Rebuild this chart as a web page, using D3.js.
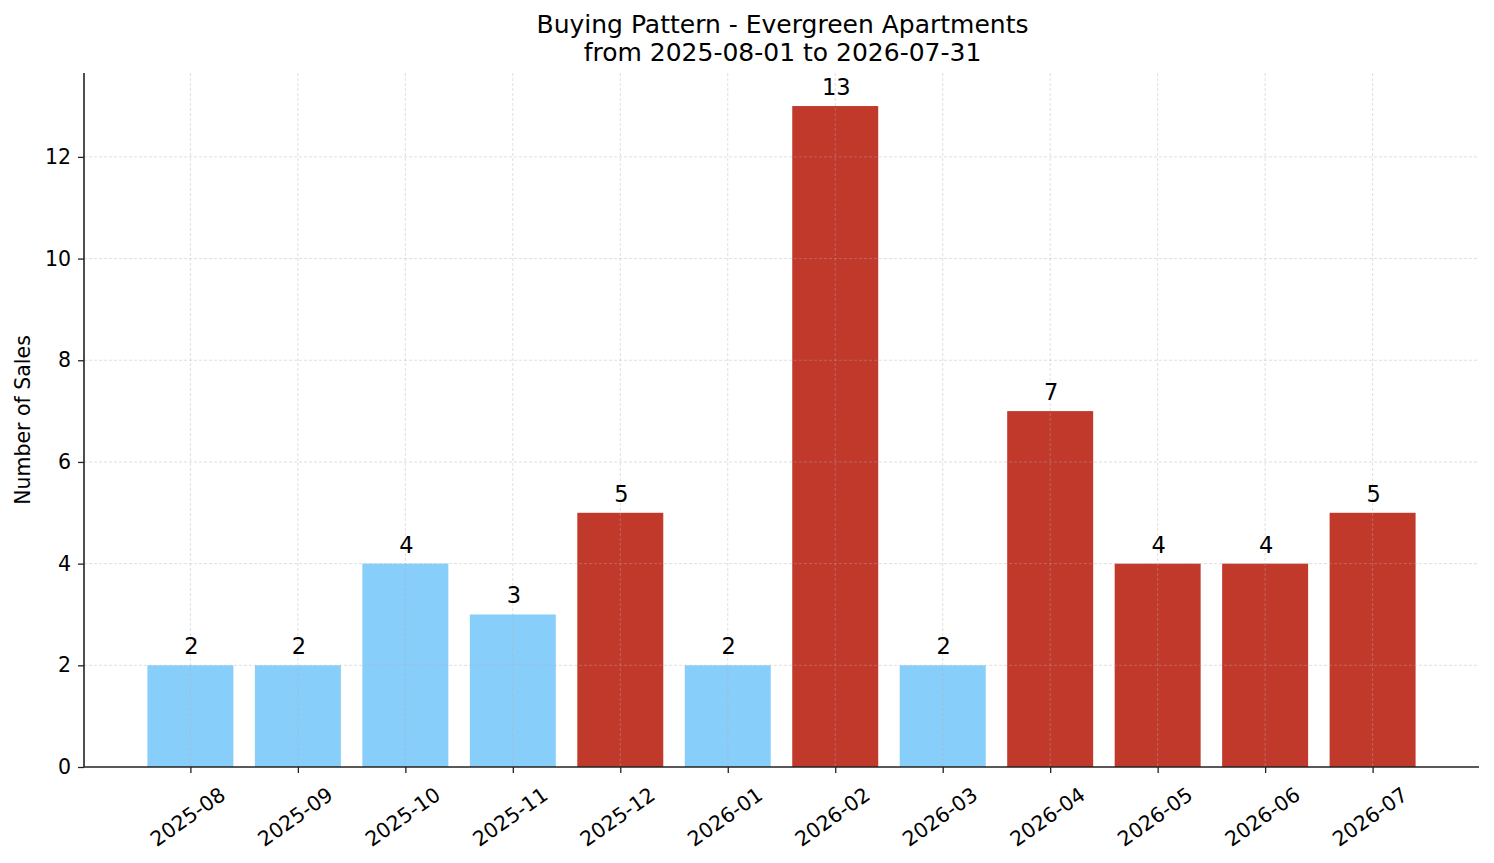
<!DOCTYPE html>
<html>
<head>
<meta charset="utf-8">
<script src="https://cdn.jsdelivr.net/npm/d3@7"></script>
<style>
  body { margin: 0; background: #fff; }
  svg { font-family: "DejaVu Sans", sans-serif; }
</style>
</head>
<body>
<div id="chart"></div>
<script>
// data
var months = ["2025-08","2025-09","2025-10","2025-11","2025-12","2026-01",
              "2026-02","2026-03","2026-04","2026-05","2026-06","2026-07"];
var sales = [2, 2, 4, 3, 5, 2, 13, 2, 7, 4, 4, 5];
var highMonth = [false, false, false, false, true, false, true, false, true, true, true, true];
var yTicks = [0, 2, 4, 6, 8, 10, 12];

(function () {
var W = 1494, H = 863;
var mLeft = 84, mRight = 1479, mTop = 73, mBottom = 767;

var svg = d3.select("#chart").append("svg")
  .attr("width", W).attr("height", H);

// bar axis: matplotlib style, categories at 0..n-1 with 5% margin
var n = months.length;
var x = d3.scaleLinear().domain([-0.4 - 0.05 * (n - 0.2), n - 0.6 + 0.05 * (n - 0.2)]).range([mLeft, mRight]);
var y = d3.scaleLinear().domain([0, 13 * 1.05]).range([mBottom, mTop]);
var bw = x(0.8) - x(0);

// bars
svg.selectAll("rect.bar")
  .data(sales)
  .enter()
  .append("rect")
    .attr("class", "bar")
    .attr("x", function (d, i) { return x(i) - bw / 2; })
    .attr("y", function (d) { return y(d); })
    .attr("width", bw)
    .attr("height", function (d) { return y(0) - y(d); })
    .attr("fill", function (d, i) { return highMonth[i] ? "#C0392B" : "#87CEFA"; });

// grid on top, faint dashed
var grid = svg.append("g").attr("stroke", "#b0b0b0").attr("stroke-opacity", 0.5)
  .attr("stroke-width", 0.8).attr("stroke-dasharray", "3,2");
grid.selectAll("line.h").data(yTicks.slice(1)).enter().append("line")
  .attr("x1", mLeft).attr("x2", mRight)
  .attr("y1", function (d) { return y(d); }).attr("y2", function (d) { return y(d); });
grid.selectAll("line.v").data(months).enter().append("line")
  .attr("y1", mTop).attr("y2", mBottom)
  .attr("x1", function (d, i) { return x(i); }).attr("x2", function (d, i) { return x(i); });

// value labels
svg.selectAll("text.val")
  .data(sales)
  .enter()
  .append("text")
    .attr("x", function (d, i) { return x(i) + 1; })
    .attr("y", function (d) { return y(d) - 11; })
    .attr("text-anchor", "middle")
    .style("font-size", "22.5px")
    .text(function (d) { return d; });

// axes
var yAxis = d3.axisLeft(y).tickValues(yTicks).tickSize(6).tickPadding(7);
var gy = svg.append("g").attr("transform", "translate(" + mLeft + ",0)").call(yAxis);
gy.attr("font-family", null).attr("font-size", null);
gy.select(".domain").attr("d", "M0," + mTop + "V" + mBottom).attr("stroke", "#222").attr("stroke-width", 1.6);
gy.selectAll(".tick line").attr("stroke", "#222").attr("stroke-width", 1.3);
gy.selectAll(".tick text").style("font-size", "20.5px").attr("fill", "#000");

var xAxis = d3.axisBottom(x).tickValues(d3.range(n)).tickFormat(function (i) { return months[i]; })
  .tickSize(6).tickPadding(6);
var gx = svg.append("g").attr("transform", "translate(0," + mBottom + ")").call(xAxis);
gx.attr("font-family", null).attr("font-size", null);
gx.select(".domain").attr("d", "M" + mLeft + ",0H" + mRight).attr("stroke", "#222").attr("stroke-width", 1.6);
gx.selectAll(".tick line").attr("stroke", "#222").attr("stroke-width", 1.3);
gx.selectAll(".tick text")
  .style("font-size", "20.5px").attr("fill", "#000")
  .attr("text-anchor", "end")
  .attr("y", 0).attr("dy", "0")
  .attr("transform", "translate(36,31) rotate(-35)");

// titles
svg.append("text").attr("x", (mLeft + mRight) / 2 + 1).attr("y", 33).attr("text-anchor", "middle")
  .style("font-size", "25px").text("Buying Pattern - Evergreen Apartments");
svg.append("text").attr("x", (mLeft + mRight) / 2 + 1).attr("y", 61).attr("text-anchor", "middle")
  .style("font-size", "25px").text("from 2025-08-01 to 2026-07-31");

svg.append("text")
  .attr("transform", "translate(30," + ((mTop + mBottom) / 2) + ") rotate(-90)")
  .attr("text-anchor", "middle")
  .style("font-size", "20.5px")
  .text("Number of Sales");
})();
</script>
</body>
</html>
